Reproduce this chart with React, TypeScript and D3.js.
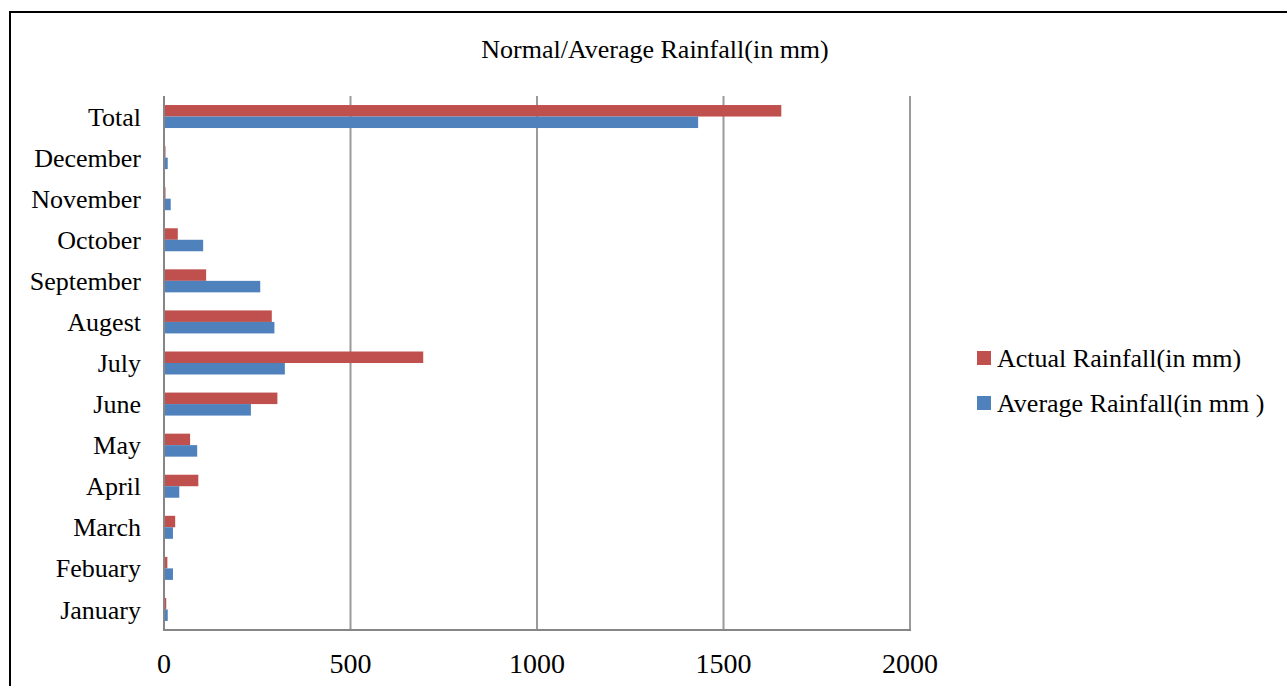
import React from "react";
import * as d3 from "d3";

// months top to bottom, as in the picture
const categories = [
  "Total", "December", "November", "October", "September", "Augest",
  "July", "June", "May", "April", "March", "Febuary", "January",
];
const actualRainfall = [1655, 4, 4, 37, 113, 289, 695, 304, 70, 92, 30, 9, 6];
const averageRainfall = [1432, 10, 18, 105, 258, 296, 324, 233, 89, 41, 24, 24, 10];
const xTicks = [0, 500, 1000, 1500, 2000];
const seriesNames = ["Actual Rainfall(in mm)", "Average Rainfall(in mm )"];
const colors = ["#C0504D", "#4F81BD"];

const W = 1287;
const H = 686;
const margin = { top: 96, left: 164, right: 377, bottom: 56 };
const font = "'Liberation Serif', 'Times New Roman', serif";

const App = () => {
  const x = d3.scaleLinear().domain([0, 2000]).range([margin.left, W - margin.right]);
  const y = d3
    .scaleBand()
    .domain(categories)
    .range([margin.top, H - margin.bottom])
    .paddingInner(0.44)
    .paddingOuter(0.22);
  const inner = d3.scaleBand().domain(["actual", "average"]).range([0, y.bandwidth()]);
  const series = [actualRainfall, averageRainfall];
  const y0 = margin.top;
  const y1 = H - margin.bottom;

  return (
    <svg
      width={W}
      height={H}
      style={{ position: "absolute", left: 0, top: 0, background: "#fff" }}
      fontFamily={font}
    >
      <rect x={10} y={12} width={W + 10} height={H + 10} fill="none" stroke="#000" strokeWidth={2} />
      <text x={655} y={58} textAnchor="middle" fontSize={26} fill="#000">
        Normal/Average Rainfall(in mm)
      </text>

      {/* grid */}
      {xTicks.map((t) => (
        <line key={t} x1={x(t)} x2={x(t)} y1={y0} y2={y1} stroke={t === 0 ? "#868686" : "#9a9a9a"} strokeWidth={2} />
      ))}
      <line x1={x(0) - 1} x2={x(2000) + 1} y1={y1} y2={y1} stroke="#868686" strokeWidth={2} />

      {/* bars */}
      {series.map((vals, si) =>
        vals.map((v, i) => (
          <rect
            key={`${si}-${i}`}
            x={x(0) + 1}
            y={(y(categories[i]) ?? 0) + (inner(si === 0 ? "actual" : "average") ?? 0)}
            width={Math.max(0, x(v) - x(0) - 1)}
            height={inner.bandwidth()}
            fill={colors[si]}
          />
        ))
      )}

      {/* category labels */}
      {categories.map((c) => (
        <text
          key={c}
          x={141}
          y={(y(c) ?? 0) + y.bandwidth() / 2}
          dy="0.35em"
          textAnchor="end"
          fontSize={26}
          fill="#000"
        >
          {c}
        </text>
      ))}

      {/* x tick labels */}
      {xTicks.map((t) => (
        <text key={t} x={x(t)} y={673} textAnchor="middle" fontSize={28} fill="#000">
          {t}
        </text>
      ))}

      {/* legend */}
      {seriesNames.map((s, i) => (
        <g key={s} transform={`translate(977, ${358 + i * 45})`}>
          <rect x={0} y={-7} width={14} height={14} fill={colors[i]} />
          <text x={20} y={0} dy="0.35em" fontSize={26} fill="#000">
            {s}
          </text>
        </g>
      ))}
    </svg>
  );
};

export default App;
